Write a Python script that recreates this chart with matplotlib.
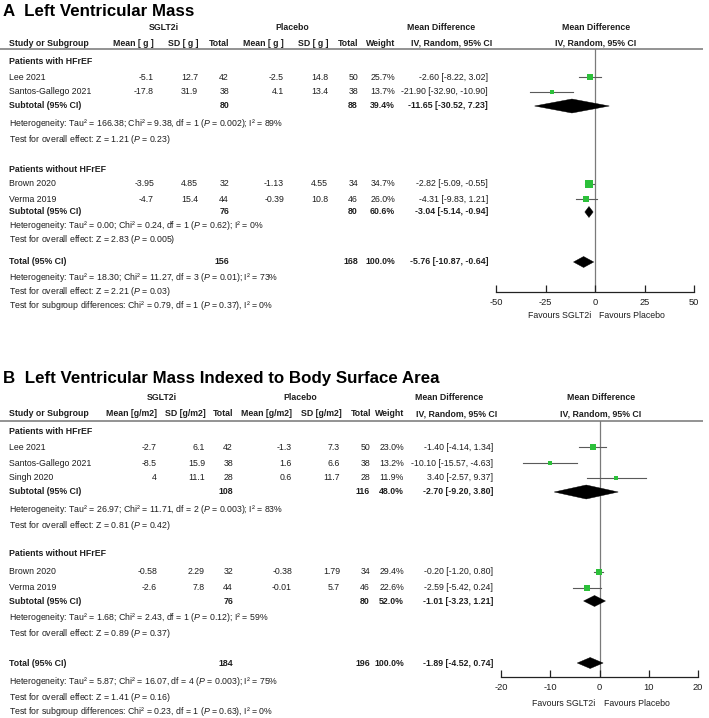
import matplotlib
matplotlib.use("Agg")
import matplotlib.pyplot as plt
from matplotlib.patches import Polygon

plt.rcParams['font.family'] = ['Liberation Sans', 'DejaVu Sans']
plt.rcParams['mathtext.fontset'] = 'custom'
plt.rcParams['mathtext.rm'] = 'Liberation Sans'
plt.rcParams['mathtext.it'] = 'Liberation Sans:italic'
plt.rcParams['mathtext.bf'] = 'Liberation Sans:bold'

# ---------------- Data: Panel A (Left Ventricular Mass, g) ----------------
A_title = "A  Left Ventricular Mass"
A_units = "[ g ]"
A_groups = ["Patients with HFrEF", "Patients without HFrEF"]
A_studies = [["Lee 2021", "Santos-Gallego 2021"], ["Brown 2020", "Verma 2019"]]
A_sglt_mean = [[-5.1, -17.8], [-3.95, -4.7]]
A_sglt_sd = [[12.7, 31.9], [4.85, 15.4]]
A_sglt_n = [[42, 38], [32, 44]]
A_pla_mean = [[-2.5, 4.1], [-1.13, -0.39]]
A_pla_sd = [[14.8, 13.4], [4.55, 10.8]]
A_pla_n = [[50, 38], [34, 46]]
A_weight = [[25.7, 13.7], [34.7, 26.0]]
A_md = [[-2.60, -21.90], [-2.82, -4.31]]
A_lo = [[-8.22, -32.90], [-5.09, -9.83]]
A_hi = [[3.02, -10.90], [-0.55, 1.21]]
A_sub_n_sglt = [80, 76]
A_sub_n_pla = [88, 80]
A_sub_weight = [39.4, 60.6]
A_sub_md = [-11.65, -3.04]
A_sub_lo = [-30.52, -5.14]
A_sub_hi = [7.23, -0.94]
A_sub_het = ["Heterogeneity: Tau² = 166.38; Chi² = 9.38, df = 1 ($\\mathit{P}$ = 0.002); I² = 89%",
             "Heterogeneity: Tau² = 0.00; Chi² = 0.24, df = 1 ($\\mathit{P}$ = 0.62); I² = 0%"]
A_sub_test = ["Test for overall effect: Z = 1.21 ($\\mathit{P}$ = 0.23)",
              "Test for overall effect: Z = 2.83 ($\\mathit{P}$ = 0.005)"]
A_tot_n = [156, 168]
A_tot_weight = 100.0
A_tot_md = [-5.76, -10.87, -0.64]
A_tot_text = ["Heterogeneity: Tau² = 18.30; Chi² = 11.27, df = 3 ($\\mathit{P}$ = 0.01); I² = 73%",
              "Test for overall effect: Z = 2.21 ($\\mathit{P}$ = 0.03)",
              "Test for subgroup differences: Chi² = 0.79, df = 1 ($\\mathit{P}$ = 0.37), I² = 0%"]
A_ticks = [-50, -25, 0, 25, 50]

# ---------------- Data: Panel B (LV mass indexed to BSA, g/m2) ----------------
B_title = "B  Left Ventricular Mass Indexed to Body Surface Area"
B_units = "[g/m2]"
B_groups = ["Patients with HFrEF", "Patients without HFrEF"]
B_studies = [["Lee 2021", "Santos-Gallego 2021", "Singh 2020"], ["Brown 2020", "Verma 2019"]]
B_sglt_mean = [[-2.7, -8.5, 4], [-0.58, -2.6]]
B_sglt_sd = [[6.1, 15.9, 11.1], [2.29, 7.8]]
B_sglt_n = [[42, 38, 28], [32, 44]]
B_pla_mean = [[-1.3, 1.6, 0.6], [-0.38, -0.01]]
B_pla_sd = [[7.3, 6.6, 11.7], [1.79, 5.7]]
B_pla_n = [[50, 38, 28], [34, 46]]
B_weight = [[23.0, 13.2, 11.9], [29.4, 22.6]]
B_md = [[-1.40, -10.10, 3.40], [-0.20, -2.59]]
B_lo = [[-4.14, -15.57, -2.57], [-1.20, -5.42]]
B_hi = [[1.34, -4.63, 9.37], [0.80, 0.24]]
B_sub_n_sglt = [108, 76]
B_sub_n_pla = [116, 80]
B_sub_weight = [48.0, 52.0]
B_sub_md = [-2.70, -1.01]
B_sub_lo = [-9.20, -3.23]
B_sub_hi = [3.80, 1.21]
B_sub_het = ["Heterogeneity: Tau² = 26.97; Chi² = 11.71, df = 2 ($\\mathit{P}$ = 0.003); I² = 83%",
             "Heterogeneity: Tau² = 1.68; Chi² = 2.43, df = 1 ($\\mathit{P}$ = 0.12); I² = 59%"]
B_sub_test = ["Test for overall effect: Z = 0.81 ($\\mathit{P}$ = 0.42)",
              "Test for overall effect: Z = 0.89 ($\\mathit{P}$ = 0.37)"]
B_tot_n = [184, 196]
B_tot_weight = 100.0
B_tot_md = [-1.89, -4.52, 0.74]
B_tot_text = ["Heterogeneity: Tau² = 5.87; Chi² = 16.07, df = 4 ($\\mathit{P}$ = 0.003); I² = 75%",
              "Test for overall effect: Z = 1.41 ($\\mathit{P}$ = 0.16)",
              "Test for subgroup differences: Chi² = 0.23, df = 1 ($\\mathit{P}$ = 0.63), I² = 0%"]
B_ticks = [-20, -10, 0, 10, 20]

# ---------------- Figure ----------------
W, H = 709, 718
fig = plt.figure(figsize=(W / 100, H / 100), dpi=100)
bg = fig.add_axes([0, 0, 1, 1])
bg.set_xlim(0, W)
bg.set_ylim(H, 0)
bg.axis('off')

TXT = '#1e1e1e'
FS = 6.35
GREEN = '#2cc03a'


def fmt(v):
    return f"{v:g}"


def ci(md, lo, hi):
    return f"{md:.2f} [{lo:.2f}, {hi:.2f}]"


def draw_panel(title, units, groups, studies, sm, ssd, sn, pm, psd, pn, wt, md, lo, hi,
               sub_ns, sub_np, sub_w, sub_md, sub_lo, sub_hi, sub_het, sub_test,
               tot_n, tot_w, tot_md, tot_text, ticks, L):
    cols = L['cols']
    t = lambda x, y, s, **kw: bg.text(x, y, s, fontsize=kw.pop('fs', FS), color=kw.pop('c', TXT),
                                       va='center', **kw)
    # title
    bg.text(3, L['title'], title, fontsize=12.2, fontweight='bold', color='black', va='center')
    # group headers
    t(L['sglt_x'], L['grp'], "SGLT2i", ha='center', fontweight='bold')
    t(L['pla_x'], L['grp'], "Placebo", ha='center', fontweight='bold')
    t(L['md_x'], L['grp'], "Mean Difference", ha='center', fontweight='bold')
    t(L['fmd_x'], L['grp'], "Mean Difference", ha='center', fontweight='bold')
    hdrs = ["Mean " + units, "SD " + units, "Total", "Mean " + units, "SD " + units, "Total",
            "Weight", "IV, Random, 95% CI"]
    t(9, L['hdr'], "Study or Subgroup", ha='left', fontweight='bold')
    for x, h in zip(L['hcols'], hdrs):
        t(x, L['hdr'], h, ha='right', fontweight='bold')
    t(L['fmd_x'], L['hdr'], "IV, Random, 95% CI", ha='center', fontweight='bold')
    bg.plot([0, 703], [L['hline'], L['hline']], color='#8a8a8a', lw=1.3, solid_capstyle='butt')

    # forest axes
    fx0, fx1, fy0, fy1 = L['fx0'], L['fx1'], L['hline'], L['axis']
    ax = fig.add_axes([fx0 / W, 1 - fy1 / H, (fx1 - fx0) / W, (fy1 - fy0) / H])
    ax.set_xlim(ticks[0], ticks[-1])
    ax.set_ylim(fy1, fy0)
    ax.patch.set_alpha(0)
    for s in ['top', 'right', 'left']:
        ax.spines[s].set_visible(False)
    ax.spines['bottom'].set_linewidth(0.9)
    ax.spines['bottom'].set_color('#222222')
    ax.set_yticks([])
    ax.set_xticks(ticks)
    ax.set_xticklabels([str(v) for v in ticks])
    ax.tick_params(axis='x', direction='in', length=5, width=0.9, color='#222222',
                   labelsize=FS + 0.3, labelcolor=TXT, pad=4)
    ax.axvline(0, color='#7a7a7a', lw=0.9, zorder=1)

    def diamond(y, m, l, h, hh):
        ax.add_patch(Polygon([(l, y), (m, y - hh), (h, y), (m, y + hh)], closed=True,
                             facecolor='black', edgecolor='black', lw=0.3, zorder=3))

    for g in range(len(groups)):
        rows = L['rows'][g]
        t(9, rows['label'], groups[g], ha='left', fontweight='bold')
        for i, name in enumerate(studies[g]):
            y = rows['studies'][i]
            t(9, y, name, ha='left')
            vals = [fmt(sm[g][i]), fmt(ssd[g][i]), str(sn[g][i]), fmt(pm[g][i]), fmt(psd[g][i]),
                    str(pn[g][i]), f"{wt[g][i]:.1f}%", ci(md[g][i], lo[g][i], hi[g][i])]
            for x, v in zip(cols, vals):
                t(x, y, v, ha='right')
            ax.plot([lo[g][i], hi[g][i]], [y, y], color='#5a5a5a', lw=0.8, zorder=2)
            ax.plot(md[g][i], y, marker='s', color=GREEN, markersize=0.9 * wt[g][i] ** 0.5,
                    markeredgewidth=0, zorder=4)
        y = rows['sub']
        t(9, y, "Subtotal (95% CI)", ha='left', fontweight='bold')
        t(cols[2], y, str(sub_ns[g]), ha='right', fontweight='bold')
        t(cols[5], y, str(sub_np[g]), ha='right', fontweight='bold')
        t(cols[6], y, f"{sub_w[g]:.1f}%", ha='right', fontweight='bold')
        t(cols[7], y, ci(sub_md[g], sub_lo[g], sub_hi[g]), ha='right', fontweight='bold')
        diamond(y, sub_md[g], sub_lo[g], sub_hi[g], rows['dh'])
        t(9, rows['het'], sub_het[g], ha='left')
        t(9, rows['test'], sub_test[g], ha='left')

    y = L['total']
    t(9, y, "Total (95% CI)", ha='left', fontweight='bold')
    t(cols[2], y, str(tot_n[0]), ha='right', fontweight='bold')
    t(cols[5], y, str(tot_n[1]), ha='right', fontweight='bold')
    t(cols[6], y, f"{tot_w:.1f}%", ha='right', fontweight='bold')
    t(cols[7], y, ci(*tot_md), ha='right', fontweight='bold')
    diamond(y, tot_md[0], tot_md[1], tot_md[2], 5.5)
    for yy, s in zip(L['tot_lines'], tot_text):
        t(9, yy, s, ha='left')

    zero_px = fx0 + (0 - ticks[0]) / (ticks[-1] - ticks[0]) * (fx1 - fx0)
    t(zero_px - 4, L['fav'], "Favours SGLT2i", ha='right')
    t(zero_px + 4, L['fav'], "Favours Placebo", ha='left')


LA = dict(title=11, grp=28, hdr=43, hline=49, axis=292, fav=316,
          cols=[154, 198, 229, 284, 328, 358, 395, 488],
          hcols=[154, 198, 229, 284, 328, 358, 395, 492],
          sglt_x=164, pla_x=292, md_x=441, fmd_x=596, fx0=496, fx1=694,
          rows=[dict(label=61, studies=[77, 92], sub=106, het=124, test=140, dh=7),
                dict(label=169, studies=[184, 199], sub=212, het=226, test=240, dh=5.5)],
          total=262, tot_lines=[277, 291, 306])

LB = dict(title=378, grp=398, hdr=414, hline=421, axis=677, fav=703,
          cols=[157, 205, 233, 292, 340, 370, 404, 493],
          hcols=[157, 206, 233, 292, 342, 371, 404, 497],
          sglt_x=162, pla_x=300, md_x=449, fmd_x=601, fx0=501, fx1=698,
          rows=[dict(label=431, studies=[447, 463, 478], sub=492, het=509, test=525, dh=7),
                dict(label=554, studies=[572, 588], sub=601, het=618, test=634, dh=5.5)],
          total=663, tot_lines=[682, 697, 712])

draw_panel(A_title, A_units, A_groups, A_studies, A_sglt_mean, A_sglt_sd, A_sglt_n,
           A_pla_mean, A_pla_sd, A_pla_n, A_weight, A_md, A_lo, A_hi,
           A_sub_n_sglt, A_sub_n_pla, A_sub_weight, A_sub_md, A_sub_lo, A_sub_hi,
           A_sub_het, A_sub_test, A_tot_n, A_tot_weight, A_tot_md, A_tot_text, A_ticks, LA)
draw_panel(B_title, B_units, B_groups, B_studies, B_sglt_mean, B_sglt_sd, B_sglt_n,
           B_pla_mean, B_pla_sd, B_pla_n, B_weight, B_md, B_lo, B_hi,
           B_sub_n_sglt, B_sub_n_pla, B_sub_weight, B_sub_md, B_sub_lo, B_sub_hi,
           B_sub_het, B_sub_test, B_tot_n, B_tot_weight, B_tot_md, B_tot_text, B_ticks, LB)

fig.savefig("out.png", dpi=100)
